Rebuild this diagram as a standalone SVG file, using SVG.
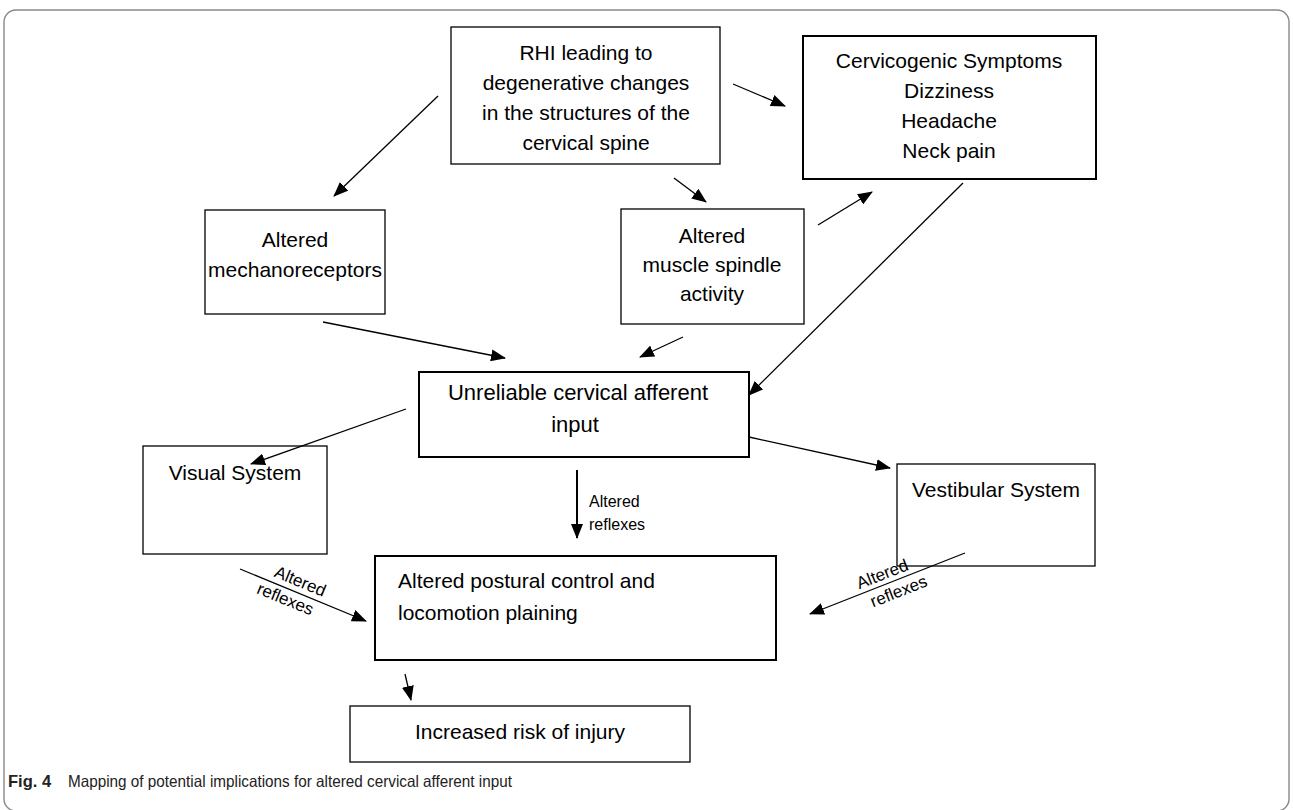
<svg xmlns="http://www.w3.org/2000/svg" width="1293" height="810" viewBox="0 0 1293 810">
<defs>
<marker id="ah" markerWidth="15" markerHeight="12" refX="14" refY="6" orient="auto" markerUnits="userSpaceOnUse">
<path d="M0,0 L15,6 L0,12 z" fill="#000"/>
</marker>
<style>
.box{fill:#fff;stroke:#000;stroke-width:1.3}
.bold{stroke-width:2}
.t{font-family:"Liberation Sans",Arial,sans-serif;font-size:21px;fill:#000;text-anchor:middle}
.tl{font-family:"Liberation Sans",Arial,sans-serif;font-size:21px;fill:#000}
.lab{font-family:"Liberation Sans",Arial,sans-serif;font-size:16px;fill:#000}
.labm{font-family:"Liberation Sans",Arial,sans-serif;font-size:17px;fill:#000;text-anchor:middle}
.c{stroke:#000;stroke-width:1.3;fill:none;marker-end:url(#ah)}
.cap{font-family:"Liberation Sans",Arial,sans-serif;font-size:16.5px;fill:#222}
</style>
</defs>
<rect x="4" y="10" width="1285" height="801" rx="12" fill="#fff" stroke="#888" stroke-width="1.4"/>
<g id="rhi"><rect class="box" x="451" y="27" width="269" height="137"/>
<text class="t" x="586" y="60">RHI leading to</text><text class="t" x="586" y="90">degenerative changes</text><text class="t" x="586" y="120">in the structures of the</text><text class="t" x="586" y="150">cervical spine</text></g>
<g id="cervicogenic"><rect class="box bold" x="803" y="36" width="293" height="143"/>
<text class="t" x="949" y="68">Cervicogenic Symptoms</text><text class="t" x="949" y="98">Dizziness</text><text class="t" x="949" y="128">Headache</text><text class="t" x="949" y="158">Neck pain</text></g>
<g id="mechano"><rect class="box" x="205" y="210" width="180" height="104"/>
<text class="t" x="295" y="247">Altered</text><text class="t" x="295" y="277">mechanoreceptors</text></g>
<g id="spindle"><rect class="box" x="621" y="209" width="183" height="115"/>
<text class="t" x="712" y="243">Altered</text><text class="t" x="712" y="272">muscle spindle</text><text class="t" x="712" y="301">activity</text></g>
<g id="unreliable"><rect class="box bold" x="419" y="372" width="330" height="85"/>
<text class="t" x="578" y="400" style="font-size:22px">Unreliable cervical afferent</text><text class="t" x="575" y="432" style="font-size:22px">input</text></g>
<g id="visual"><rect class="box" x="143" y="446" width="184" height="108"/>
<text class="t" x="235" y="480">Visual System</text></g>
<g id="vestibular"><rect class="box" x="897" y="464" width="198" height="102"/>
<text class="t" x="996" y="497">Vestibular System</text></g>
<g id="postural"><rect class="box bold" x="375" y="556" width="401" height="104"/>
<text class="tl" x="398" y="588">Altered postural control and</text><text class="tl" x="398" y="620">locomotion plaining</text></g>
<g id="risk"><rect class="box" x="350" y="706" width="340" height="56"/>
<text class="t" x="520" y="739">Increased risk of injury</text></g>
<g id="connectors">
<line class="c" x1="438" y1="96" x2="334" y2="196"/>
<line class="c" x1="733" y1="84" x2="785" y2="106"/>
<line class="c" x1="674" y1="178" x2="706" y2="202"/>
<line class="c" x1="818" y1="225" x2="872" y2="192"/>
<line class="c" x1="963" y1="183" x2="749" y2="395"/>
<line class="c" x1="323" y1="322" x2="505" y2="358"/>
<line class="c" x1="683" y1="337" x2="640" y2="357"/>
<line class="c" x1="406" y1="409" x2="251" y2="464"/>
<line class="c" x1="749" y1="437" x2="890" y2="468"/>
<line class="c" x1="577" y1="470" x2="577" y2="538" style="stroke-width:2"/>
<line class="c" x1="240" y1="569" x2="366" y2="621"/>
<line class="c" x1="965" y1="553" x2="810" y2="614"/>
<line class="c" x1="405" y1="674" x2="411" y2="700"/>
</g>
<g id="labels">
<text class="lab" x="589" y="507">Altered</text><text class="lab" x="589" y="530">reflexes</text>
<g transform="translate(293,591) rotate(22.4)"><text class="labm" x="3" y="-6">Altered</text><text class="labm" x="-4" y="16">reflexes</text></g>
<g transform="translate(889,583) rotate(-21.5)"><text class="labm" x="-3" y="-5">Altered</text><text class="labm" x="6" y="17">reflexes</text></g>
</g>
<g id="caption"><text class="cap" x="8" y="787" font-weight="bold">Fig. 4</text><text class="cap" x="68" y="787" textLength="444" lengthAdjust="spacingAndGlyphs">Mapping of potential implications for altered cervical afferent input</text></g>
</svg>
